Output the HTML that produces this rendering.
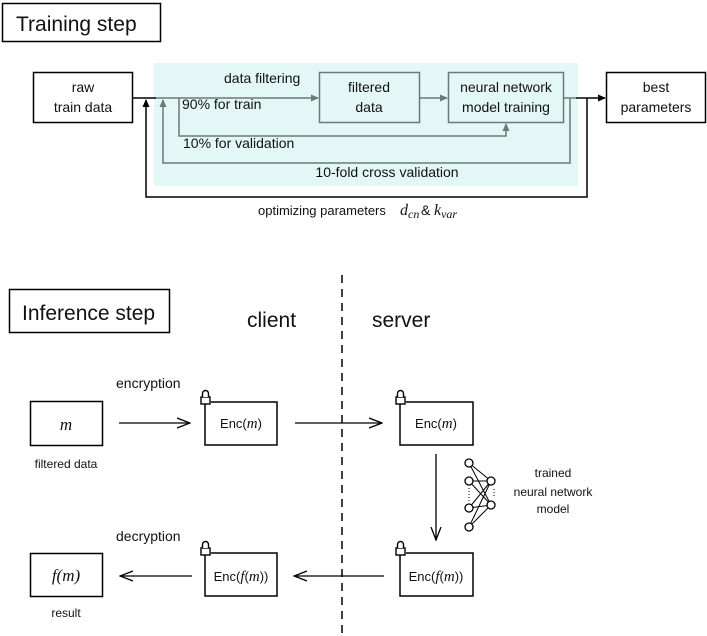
<!DOCTYPE html>
<html><head><meta charset="utf-8"><style>
html,body{margin:0;padding:0;background:#fff;}
svg{display:block;}
text{font-family:"Liberation Sans",sans-serif;fill:#111;}
.m{font-family:"Liberation Serif",serif;font-style:italic;}
</style></head><body>
<svg width="707" height="636" viewBox="0 0 707 636" xmlns="http://www.w3.org/2000/svg">
<defs>
<marker id="ab" markerWidth="8" markerHeight="8" refX="7" refY="4" orient="auto" markerUnits="userSpaceOnUse"><path d="M0,0.5 L8,4 L0,7.5Z" fill="#000"/></marker>
<marker id="ag" markerWidth="8" markerHeight="8" refX="7" refY="4" orient="auto" markerUnits="userSpaceOnUse"><path d="M0,0.5 L8,4 L0,7.5Z" fill="#6a7a78"/></marker>
<marker id="ao" markerWidth="14" markerHeight="12" refX="13" refY="6" orient="auto" markerUnits="userSpaceOnUse"><path d="M0,1 L13,6 L0,11" fill="none" stroke="#000" stroke-width="1.3"/></marker>
</defs>
<!-- Training -->
<rect x="2.5" y="3.5" width="158" height="38" fill="#fff" stroke="#000" stroke-width="1.5"/>
<text x="16" y="31" font-size="21">Training step</text>
<rect x="154" y="63" width="424" height="123" fill="#e3f7f7"/>
<rect x="33.5" y="72.5" width="99" height="50" fill="#fff" stroke="#000" stroke-width="1.5"/>
<text x="83" y="92" font-size="14" text-anchor="middle">raw</text>
<text x="83" y="112" font-size="14" text-anchor="middle">train data</text>
<rect x="319.5" y="72.5" width="100" height="50" fill="#e3f7f7" stroke="#6a7a78" stroke-width="1.5"/>
<text x="369" y="92" font-size="14" text-anchor="middle">filtered</text>
<text x="369" y="112" font-size="14" text-anchor="middle">data</text>
<rect x="448.5" y="72.5" width="115" height="50" fill="#e3f7f7" stroke="#6a7a78" stroke-width="1.5"/>
<text x="506" y="92" font-size="14" text-anchor="middle">neural network</text>
<text x="506" y="112" font-size="14" text-anchor="middle">model training</text>
<rect x="606.5" y="72.5" width="99" height="50" fill="#fff" stroke="#000" stroke-width="1.5"/>
<text x="656" y="92" font-size="14" text-anchor="middle">best</text>
<text x="656" y="112" font-size="14" text-anchor="middle">parameters</text>
<line x1="133" y1="98" x2="156" y2="98" stroke="#000" stroke-width="1.5"/>
<line x1="156" y1="98" x2="318" y2="98" stroke="#6a7a78" stroke-width="1.5" marker-end="url(#ag)"/>
<line x1="420" y1="98" x2="447" y2="98" stroke="#6a7a78" stroke-width="1.5" marker-end="url(#ag)"/>
<line x1="564" y1="98" x2="576" y2="98" stroke="#6a7a78" stroke-width="1.5"/>
<line x1="576" y1="98" x2="605" y2="98" stroke="#000" stroke-width="1.5" marker-end="url(#ab)"/>
<polyline points="179,98 179,136 506,136 506,124" fill="none" stroke="#6a7a78" stroke-width="1.5" marker-end="url(#ag)"/>
<polyline points="570,98 570,163 163,163 163,100" fill="none" stroke="#6a7a78" stroke-width="1.5" marker-end="url(#ag)"/>
<polyline points="587,98 587,197 146,197 146,100" fill="none" stroke="#000" stroke-width="1.5" marker-end="url(#ab)"/>
<text x="224" y="83" font-size="14">data filtering</text>
<text x="182" y="109" font-size="14">90% for train</text>
<text x="183" y="148" font-size="14">10% for validation</text>
<text x="387" y="177" font-size="14" text-anchor="middle">10-fold cross validation</text>
<text x="258" y="215" font-size="13">optimizing parameters</text>
<text x="400" y="215" font-size="16" class="m">d<tspan font-size="12" dy="3">cn</tspan></text>
<text x="421" y="215" font-size="14">&amp;</text>
<text x="434" y="215" font-size="16" class="m">k<tspan font-size="12" dy="3">var</tspan></text>
<!-- Inference -->
<rect x="9.5" y="289.5" width="160" height="43" fill="#fff" stroke="#000" stroke-width="1.5"/>
<text x="22" y="320" font-size="21">Inference step</text>
<text x="247" y="327" font-size="21">client</text>
<text x="372" y="327" font-size="21">server</text>
<line x1="342" y1="275" x2="342" y2="636" stroke="#000" stroke-width="1.5" stroke-dasharray="8,6"/>
<rect x="30.5" y="401.5" width="72" height="44" fill="#fff" stroke="#000" stroke-width="1.5"/>
<text x="66" y="430" font-size="17" class="m" text-anchor="middle">m</text>
<text x="66" y="468" font-size="12" text-anchor="middle">filtered data</text>
<text x="116" y="388" font-size="14">encryption</text>
<line x1="119" y1="423" x2="190" y2="423" stroke="#000" stroke-width="1.3" marker-end="url(#ao)"/>
<rect x="30.5" y="553.5" width="72" height="43" fill="#fff" stroke="#000" stroke-width="1.5"/>
<text x="66" y="581" font-size="17" class="m" text-anchor="middle">f(m)</text>
<text x="66" y="617" font-size="12" text-anchor="middle">result</text>
<text x="116" y="541" font-size="14">decryption</text>
<line x1="192" y1="576" x2="120" y2="576" stroke="#000" stroke-width="1.3" marker-end="url(#ao)"/>
<!-- enc boxes -->
<g fill="none" stroke="#000" stroke-width="1.5">
<path d="M205,404 V445 H277 V402 H211"/>
<path d="M400,404 V445 H473 V402 H406"/>
<path d="M205,555 V596 H277 V553 H211"/>
<path d="M400,555 V596 H473 V553 H406"/>
</g>
<g fill="#fff" stroke="#000" stroke-width="1.4">
<rect x="201" y="397" width="9" height="7"/><path d="M202.5,397 V393.5 a3,3 0 0 1 6,0 V397"/>
<rect x="396" y="397" width="9" height="7"/><path d="M397.5,397 V393.5 a3,3 0 0 1 6,0 V397"/>
<rect x="201" y="548" width="9" height="7"/><path d="M202.5,548 V544.5 a3,3 0 0 1 6,0 V548"/>
<rect x="396" y="548" width="9" height="7"/><path d="M397.5,548 V544.5 a3,3 0 0 1 6,0 V548"/>
</g>
<text x="241" y="428" font-size="13" text-anchor="middle">Enc(<tspan class="m" font-size="15">m</tspan>)</text>
<text x="436" y="428" font-size="13" text-anchor="middle">Enc(<tspan class="m" font-size="15">m</tspan>)</text>
<text x="241" y="581" font-size="13" text-anchor="middle">Enc(<tspan class="m" font-size="15">f</tspan>(<tspan class="m" font-size="15">m</tspan>))</text>
<text x="436" y="581" font-size="13" text-anchor="middle">Enc(<tspan class="m" font-size="15">f</tspan>(<tspan class="m" font-size="15">m</tspan>))</text>
<line x1="295" y1="423" x2="382" y2="423" stroke="#000" stroke-width="1.3" marker-end="url(#ao)"/>
<line x1="436" y1="454" x2="436" y2="540" stroke="#000" stroke-width="1.3" marker-end="url(#ao)"/>
<line x1="384" y1="576" x2="294" y2="576" stroke="#000" stroke-width="1.3" marker-end="url(#ao)"/>
<!-- NN icon -->
<g stroke="#000" stroke-width="1">
<line x1="469" y1="463" x2="491" y2="481"/><line x1="469" y1="463" x2="491" y2="505"/>
<line x1="469" y1="481" x2="491" y2="481"/><line x1="469" y1="481" x2="491" y2="505"/>
<line x1="469" y1="508" x2="491" y2="481"/><line x1="469" y1="508" x2="491" y2="505"/>
<line x1="469" y1="527" x2="491" y2="481"/><line x1="469" y1="527" x2="491" y2="505"/>
<line x1="469" y1="488" x2="469" y2="502" stroke-dasharray="1,2"/>
<line x1="494" y1="489" x2="494" y2="497" stroke-dasharray="1,2"/>
</g>
<g fill="#fff" stroke="#000" stroke-width="1.3">
<circle cx="469" cy="463" r="4"/><circle cx="469" cy="481" r="4"/><circle cx="469" cy="508" r="4"/><circle cx="469" cy="527" r="4"/>
<circle cx="491" cy="481" r="4"/><circle cx="491" cy="505" r="4"/>
</g>
<text x="553" y="477" font-size="12" text-anchor="middle">trained</text>
<text x="553" y="496" font-size="12" text-anchor="middle">neural network</text>
<text x="553" y="513" font-size="12" text-anchor="middle">model</text>
</svg>
</body></html>
